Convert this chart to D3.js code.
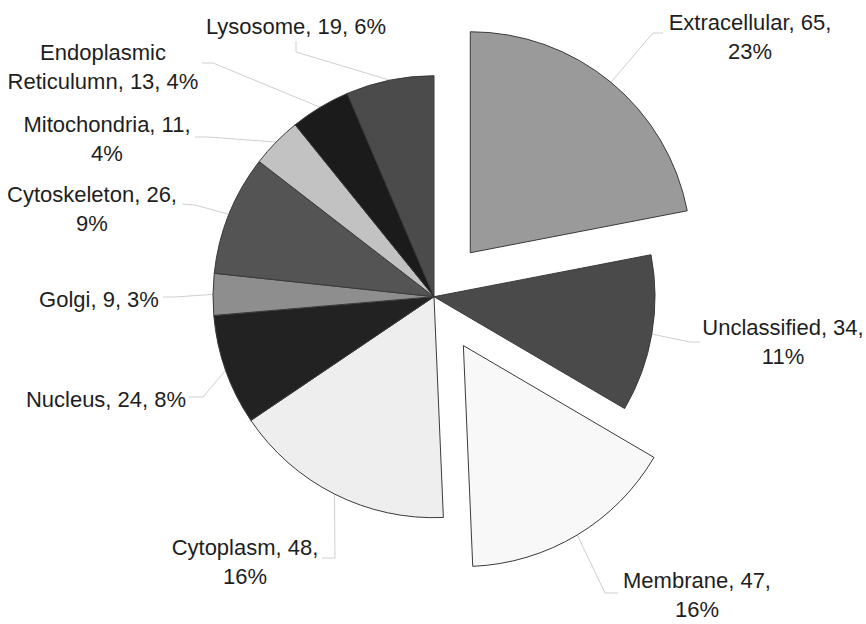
<!DOCTYPE html>
<html>
<head>
<meta charset="utf-8">
<script src="https://cdn.jsdelivr.net/npm/d3@7/dist/d3.min.js"></script>
<style>
  html, body { margin: 0; padding: 0; background: #fff; }
  svg { display: block; }
</style>
</head>
<body>
<svg id="chart" width="866" height="624"></svg>
<script>
// ---- data ----
const categories = ["Extracellular", "Unclassified", "Membrane", "Cytoplasm", "Nucleus",
                    "Golgi", "Cytoskeleton", "Mitochondria", "Endoplasmic Reticulumn", "Lysosome"];
const counts   = [65, 34, 47, 48, 24, 9, 26, 11, 13, 19];
const percents = [23, 11, 16, 16, 8, 3, 9, 4, 4, 6];
const exploded = ["Extracellular", "Membrane"];

// ---- styles ----
const fills = ["#9a9a9a", "#4a4a4a", "#f8f8f8", "#eeeeee", "#222222",
               "#8e8e8e", "#545454", "#c2c2c2", "#1b1b1b", "#4b4b4b"];

// ---- layout ----
const W = 866, H = 624;
const cx = 434, cy = 296.7, R = 221, explodeDist = 57;
const fontSize = 22, lineH = 29;
// label layout: text centre x, first baseline y, wrap mode, elbow, end of leader
// wrap: 0 single line, 1 break before percent, 2 break after first word
const labelLayout = [
  { x: 750, y: 30,  wrap: 1, elbow: [653, 33],  end: [663, 33] },
  { x: 783, y: 335, wrap: 1, elbow: [690, 342], end: [700, 342] },
  { x: 697, y: 588, wrap: 1, elbow: [605, 593], end: [618, 593] },
  { x: 245, y: 555, wrap: 1, elbow: [335, 558], end: [322, 558] },
  { x: 106, y: 407, wrap: 0, elbow: [203, 397], end: [189, 397] },
  { x: 99,  y: 307, wrap: 0, elbow: [175, 297], end: [163, 297] },
  { x: 92,  y: 202, wrap: 1, elbow: [195, 205], end: [182, 204] },
  { x: 107, y: 132, wrap: 1, elbow: [208, 137], end: [195, 137] },
  { x: 103, y: 60,  wrap: 2, elbow: [213, 63],  end: [202, 63] },
  { x: 296, y: 34,  wrap: 0, elbow: [296, 52],  end: [296, 41] }
];

const data = categories.map((c, i) => ({ name: c, value: counts[i], pct: percents[i], i }));

const svg = d3.select("#chart");
const color = d3.scaleOrdinal().domain(categories).range(fills);

const pie = d3.pie().sort(null).value(d => d.value).startAngle(0).endAngle(2 * Math.PI);
const arcs = pie(data);
const arc = d3.arc().innerRadius(0).outerRadius(R);

function offset(a) {
  if (!exploded.includes(a.data.name)) return [0, 0];
  const m = (a.startAngle + a.endAngle) / 2;
  return [Math.sin(m) * explodeDist, -Math.cos(m) * explodeDist];
}

// leader lines (drawn first, underneath)
const lines = svg.append("g");
arcs.forEach(a => {
  const m = (a.startAngle + a.endAngle) / 2;
  const o = offset(a);
  const p0 = [cx + o[0] + Math.sin(m) * R, cy + o[1] - Math.cos(m) * R];
  const L = labelLayout[a.data.i];
  lines.append("path")
    .attr("d", d3.line()([p0, L.elbow, L.end]))
    .attr("fill", "none")
    .attr("stroke", "#cfcfcf")
    .attr("stroke-width", 1);
});

// slices
const g = svg.append("g");
g.selectAll("path.slice")
  .data(arcs)
  .join("path")
  .attr("class", "slice")
  .attr("transform", a => { const o = offset(a); return `translate(${cx + o[0]},${cy + o[1]})`; })
  .attr("d", arc)
  .attr("fill", a => color(a.data.name))
  .attr("stroke", "#3a3a3a")
  .attr("stroke-width", 1)
  .attr("stroke-linejoin", "round");

// labels
const labels = svg.append("g")
  .attr("font-family", "'Liberation Sans', Arial, sans-serif")
  .attr("font-size", fontSize)
  .attr("fill", "#1e1e1e")
  .attr("text-anchor", "middle");

data.forEach(d => {
  const L = labelLayout[d.i];
  let rows;
  if (L.wrap === 0) rows = [`${d.name}, ${d.value}, ${d.pct}%`];
  else if (L.wrap === 1) rows = [`${d.name}, ${d.value},`, `${d.pct}%`];
  else {
    const words = d.name.split(" ");
    rows = [words[0], `${words.slice(1).join(" ")}, ${d.value}, ${d.pct}%`];
  }
  const t = labels.append("text").attr("x", L.x).attr("y", L.y);
  rows.forEach((r, k) => {
    t.append("tspan").attr("x", L.x).attr("dy", k === 0 ? 0 : lineH).text(r);
  });
});
</script>
</body>
</html>
